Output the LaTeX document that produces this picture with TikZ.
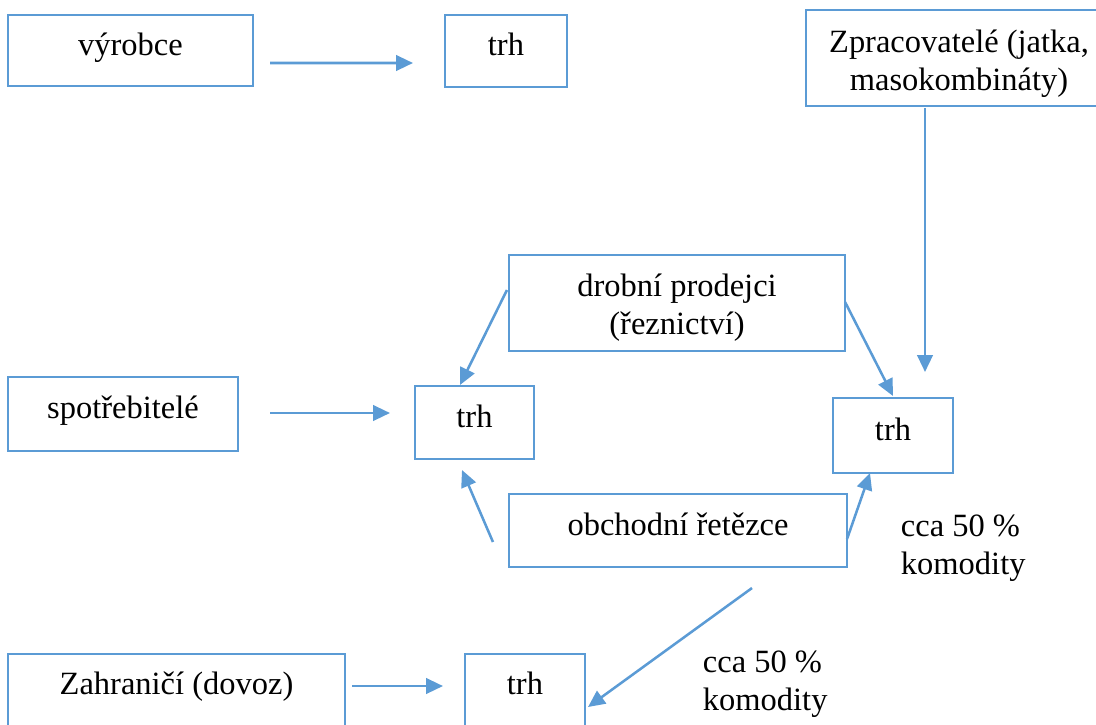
\documentclass[tikz,border=0pt]{standalone}
\usepackage{fontspec}
\setmainfont{Liberation Serif}
\usetikzlibrary{arrows.meta}
\definecolor{modra}{RGB}{91,155,213}
\tikzset{
	ramecek/.style={draw=modra, line width=1.2pt, inner sep=0pt, outer sep=0pt, align=center},
	jednaradka/.style={text height=17pt, text depth=10pt},
	sipka/.style={draw=modra, line width=1.8pt, -{Triangle[length=12pt,width=11pt]}},
}

\begin{document}
\begin{tikzpicture}[x=0.025cm, y=-0.025cm, every node/.style={font=\fontsize{23.1}{27}\selectfont}]
		\clip (0,0) rectangle (1096,724);
		% horni rada
		\node[ramecek, jednaradka, minimum width=6.125cm, minimum height=1.775cm] (vyrobce) at (130.5,50.5) {výrobce};
		\node[ramecek, jednaradka, minimum width=3.05cm, minimum height=1.8cm] (trhA) at (506,51) {trh};
		\node[ramecek, minimum width=7.65cm, minimum height=2.4cm] (zprac) at (959,58) {\rule{0pt}{24pt}Zpracovatelé (jatka,\\masokombináty)};
		% prostredni cast
		\node[ramecek, minimum width=8.4cm, minimum height=2.4cm] (drobni) at (677,303) {\rule{0pt}{23pt}drobní prodejci\\(řeznictví)};
		\node[ramecek, jednaradka, minimum width=5.75cm, minimum height=1.85cm] (spotr) at (123,414) {spotřebitelé};
		\node[ramecek, jednaradka, minimum width=2.975cm, minimum height=1.825cm] (trhB) at (474.5,422.5) {trh};
		\node[ramecek, jednaradka, minimum width=3cm, minimum height=1.875cm] (trhC) at (893,435.5) {trh};
		\node[ramecek, jednaradka, minimum width=8.45cm, minimum height=1.825cm] (obchod) at (678,530.5) {obchodní řetězce};
		\node[anchor=west, align=left] (podilA) at (896,548) {cca 50 \%\\komodity};
		% dolni rada
		\node[ramecek, jednaradka, minimum width=8.425cm, minimum height=1.8cm] (zahr) at (176.5,690) {Zahraničí (dovoz)};
		\node[ramecek, jednaradka, minimum width=3cm, minimum height=1.8cm] (trhD) at (525,690) {trh};
		\node[anchor=west, align=left] (podilB) at (698,684) {cca 50 \%\\komodity};
		% sipky
		\draw[sipka] ([shift={(17,12.5)}]vyrobce.east) -- ([shift={(-32,12)}]trhA.west);
		\draw[sipka] ([shift={(-34,2)}]zprac.south) -- ([shift={(32,-26)}]trhC.north);
		\draw[sipka] ([shift={(-2,-13)}]drobni.west) -- ([shift={(-14.5,-1)}]trhB.north);
		\draw[sipka] ([shift={(0,-1)}]drobni.east) -- ([shift={(0,-2)}]trhC.north);
		\draw[sipka] ([shift={(32,-1)}]spotr.east) -- ([shift={(-25,-9.5)}]trhB.west);
		\draw[sipka] ([shift={(-16,11.5)}]obchod.west) -- ([shift={(-12.5,11)}]trhB.south);
		\draw[sipka] ([shift={(0,8.5)}]obchod.east) -- ([shift={(-23,0)}]trhC.south);
		\draw[sipka] ([shift={(74,21)}]obchod.south) -- ([shift={(3,17)}]trhD.east);
		\draw[sipka] ([shift={(7,-4)}]zahr.east) -- ([shift={(-22,-4)}]trhD.west);
	\end{tikzpicture}
\end{document}
